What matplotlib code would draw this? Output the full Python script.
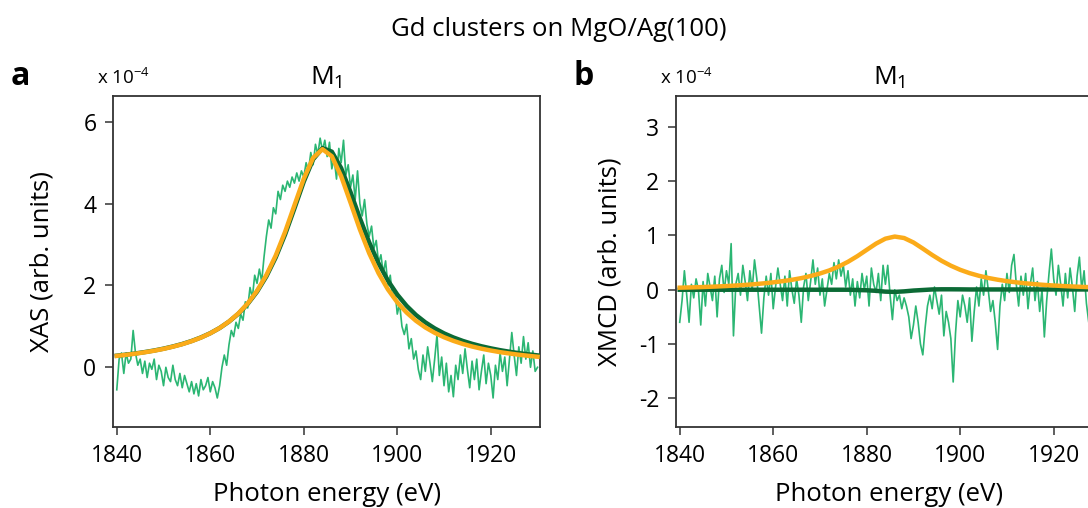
import numpy as np
import matplotlib
matplotlib.use("Agg")
import matplotlib.pyplot as plt

plt.rcParams["font.family"] = ["Open Sans", "DejaVu Sans"]
plt.rcParams["mathtext.fontset"] = "custom"
plt.rcParams["mathtext.rm"] = "Open Sans"
plt.rcParams["axes.unicode_minus"] = False

# Measured spectra, 0.5 eV steps from 1840 to 1930 eV (values in 1e-4)
energy_data = np.arange(1840, 1930.25, 0.5)
xas_data = [
    -0.55, 0.2, 0.35, -0.15, 0.35, 0.1, 0.2, 0.9, 0.35, 0.05,
    0.2, -0.15, 0.15, -0.25, 0.1, -0.05, 0.2, -0.3, 0.05, -0.1,
    -0.45, 0.0, -0.25, -0.35, 0.05, -0.3, -0.45, -0.15, -0.5, -0.2,
    -0.4, -0.6, -0.35, -0.65, -0.4, -0.7, -0.3, -0.55, -0.45, -0.25,
    -0.6, -0.35, -0.5, -0.75, -0.45, 0.0, 0.3, 0.05, 0.55, 0.9,
    0.75, 1.1, 0.95, 1.3, 1.15, 1.6, 1.45, 1.95, 1.7, 2.25,
    2.05, 2.4, 2.1, 2.7, 3.2, 3.6, 3.4, 3.9, 3.75, 4.3,
    4.1, 4.45, 4.3, 4.55, 4.4, 4.65, 4.5, 4.75, 4.55, 4.8,
    4.65, 5.0, 4.8, 5.25, 4.95, 5.45, 5.2, 5.6, 5.3, 5.55,
    5.15, 5.5, 4.85, 5.1, 4.6, 5.35, 5.0, 5.55, 4.7, 4.95,
    4.4, 4.7, 4.1, 4.8, 4.0, 3.7, 4.1, 3.5, 3.2, 3.45,
    2.9, 3.1, 2.55, 2.75, 2.3, 2.6, 2.0, 2.25, 1.7, 1.9,
    1.3, 1.55, 1.0, 0.8, 1.05, 0.45, 0.7, 0.2, 0.4, -0.05,
    -0.3, 0.3, -0.1, 0.5, 0.1, -0.35, 0.2, 0.8, -0.2, 0.25,
    -0.45, 0.1, -0.6, -0.2, -0.72, 0.05, -0.3, 0.3, -0.15, 0.45,
    -0.05, -0.5, 0.15, -0.3, 0.2, -0.55, -0.1, 0.3, -0.4, 0.1,
    -0.2, -0.75, 0.05, -0.3, 0.35, -0.1, 0.25, -0.45, 0.2, 0.85,
    0.3, -0.2, 0.5, 0.1, 0.75, 0.2, 0.6, 0.0, 0.4, -0.1,
    0.0,
]
xmcd_data = [
    -0.6, -0.2, 0.35, -0.1, -0.6, 0.1, -0.15, 0.2, 0.0, -0.65,
    0.15, -0.3, 0.3, 0.05, -0.2, 0.25, -0.5, 0.2, 0.45, -0.05,
    0.35, 0.1, 0.85, -0.85, 0.1, 0.3, -0.1, 0.45, 0.15, -0.2,
    0.35, 0.0, 0.55, 0.2, -0.3, -0.8, -0.15, 0.25, -0.1, 0.3,
    -0.35, 0.05, 0.4, 0.1, -0.2, 0.25, -0.3, 0.35, 0.0, -0.25,
    0.2, -0.1, -0.6, 0.05, 0.3, -0.2, 0.15, 0.55, 0.1, 0.4,
    -0.1, 0.2, -0.3, 0.0, 0.3, 0.1, 0.5, 0.2, 0.55, 0.25,
    0.45, 0.05, 0.35, -0.1, 0.2, -0.3, 0.15, -0.15, 0.3, 0.0,
    0.25, -0.3, 0.4, 0.1, -0.05, 0.3, -0.2, 0.45, 0.1, 0.45,
    -0.1, -0.55, 0.0, -0.2, -0.1, -0.35, -0.15, -0.3, -0.5, -0.9,
    -0.65, -0.3, -0.6, -1.0, -1.2, -0.7, -0.3, -0.1, -0.35, 0.05,
    -0.2, -0.45, -0.1, -0.85, -0.4, -0.6, -0.9, -1.7, -0.8, -0.2,
    -0.5, -0.1, -0.3, -0.6, -0.15, -0.95, -0.4, 0.05, -0.3, 0.2,
    -0.1, 0.35, 0.0, -0.4, -0.2, -0.6, -1.1, -0.3, 0.1, -0.2,
    0.3, -0.05, 0.45, 0.65, 0.1, -0.3, 0.25, -0.1, 0.3, -0.35,
    0.1, 0.4, -0.2, 0.15, -0.4, 0.0, -0.87, -0.2, 0.3, 0.75,
    0.2, -0.1, 0.45, 0.1, -0.3, 0.3, -0.15, 0.4, 0.05, -0.4,
    0.25, 0.6, 0.0, 0.35, -0.25, -0.6, -0.3, 0.2, -0.1, 0.1,
    -0.2,
]

# Fitted curves, 2 eV steps from 1840 to 1930 eV
energy_fit = np.arange(1840, 1931, 2)
xas_fit_dark = [
    0.283, 0.309, 0.338, 0.372, 0.410, 0.455, 0.508, 0.569, 0.642, 0.729,
    0.833, 0.960, 1.116, 1.308, 1.548, 1.847, 2.221, 2.685, 3.244, 3.882,
    4.536, 5.082, 5.357, 5.270, 4.868, 4.280, 3.644, 3.051, 2.541, 2.119,
    1.777, 1.501, 1.278, 1.098, 0.951, 0.829, 0.729, 0.645, 0.574, 0.514,
    0.463, 0.418, 0.380, 0.346, 0.317, 0.291,
]
xas_fit_orange = [
    0.279, 0.304, 0.333, 0.367, 0.405, 0.450, 0.503, 0.564, 0.638, 0.725,
    0.831, 0.960, 1.119, 1.315, 1.560, 1.868, 2.254, 2.732, 3.308, 3.958,
    4.608, 5.120, 5.330, 5.157, 4.669, 4.025, 3.370, 2.786, 2.298, 1.903,
    1.588, 1.337, 1.136, 0.974, 0.843, 0.735, 0.646, 0.571, 0.508, 0.455,
    0.410, 0.370, 0.337, 0.307, 0.281, 0.258,
]
xmcd_fit_dark = [
    0.0, 0.0, 0.0, 0.0, 0.0, 0.0, 0.0, 0.0, 0.0, 0.0,
    0.0, 0.0, 0.0, 0.0, 0.0, 0.0, 0.0, 0.0, 0.0, -0.005,
    -0.01, -0.02, -0.035, -0.04, -0.03, -0.015, -0.005, 0.005, 0.008, 0.008,
    0.007, 0.005, 0.005, 0.005, 0.005, 0.005, 0.005, 0.005, 0.005, 0.005,
    0.005, 0.005, 0.005, 0.005, 0.005, 0.005,
]
xmcd_fit_orange = [
    0.038, 0.042, 0.047, 0.053, 0.060, 0.068, 0.078, 0.089, 0.102, 0.118,
    0.136, 0.158, 0.183, 0.214, 0.253, 0.299, 0.356, 0.427, 0.515, 0.619,
    0.735, 0.850, 0.941, 0.980, 0.953, 0.871, 0.758, 0.641, 0.534, 0.443,
    0.367, 0.306, 0.257, 0.217, 0.185, 0.158, 0.136, 0.118, 0.102, 0.089,
    0.078, 0.068, 0.060, 0.053, 0.047, 0.042,
]

xas_ticks = [0, 2, 4, 6]
xmcd_ticks = [-2, -1, 0, 1, 2, 3]
energy_ticks = [1840, 1860, 1880, 1900, 1920]

c_data = "#2bb673"
c_dark = "#0b6a35"
c_orange = "#fbab19"
c_axis = "#333333"

fig = plt.figure(figsize=(10.88, 5.08), dpi=100)
ax1 = fig.add_axes([0.1039, 0.1594, 0.3925, 0.6516])
ax2 = fig.add_axes([0.6213, 0.1594, 0.3925, 0.6516])

panels = [
    (ax1, xas_data, xas_fit_dark, xas_fit_orange, xas_ticks, (-1.46, 6.63),
     "XAS (arb. units)", "a", -0.138),
    (ax2, xmcd_data, xmcd_fit_dark, xmcd_fit_orange, xmcd_ticks, (-2.53, 3.57),
     "XMCD (arb. units)", "b", -0.126),
]

for ax, data, fit_dark, fit_orange, yt, ylim, ylabel, letter, ylab_x in panels:
    ax.plot(energy_data, data, color=c_data, lw=1.2, zorder=2)
    ax.plot(energy_fit, fit_dark, color=c_dark, lw=3.2, zorder=3)
    ax.plot(energy_fit, fit_orange, color=c_orange, lw=3.2, zorder=4)

    ax.set_xlim(1839.2, 1930.55)
    ax.set_ylim(*ylim)
    ax.set_xticks(energy_ticks)
    ax.set_yticks(yt)
    ax.tick_params(direction="out", length=6, width=1.1, color=c_axis,
                   labelsize=16.5, pad=6)
    for sp in ax.spines.values():
        sp.set_color(c_axis)
        sp.set_linewidth(1.3)

    ax.set_xlabel("Photon energy (eV)", fontsize=18.5)
    ax.xaxis.set_label_coords(0.5, -0.165)
    ax.set_ylabel(ylabel, fontsize=18.5)
    ax.yaxis.set_label_coords(ylab_x, 0.5)

    ax.set_title(r"M$_\mathregular{1}$", fontsize=19, pad=8)

    bb = ax.get_position()
    fig.text(bb.x0 - 0.094, 0.833, letter, fontsize=23, fontweight="bold",
             ha="left", va="baseline")
    fig.text(bb.x0 - 0.0147, 0.835, r"x 10$^\mathregular{-4}$", fontsize=13.5,
             ha="left", va="baseline")

fig.text(0.514, 0.941, "Gd clusters on MgO/Ag(100)", fontsize=18.5,
         ha="center", va="center")

fig.savefig("out.png", dpi=100)
